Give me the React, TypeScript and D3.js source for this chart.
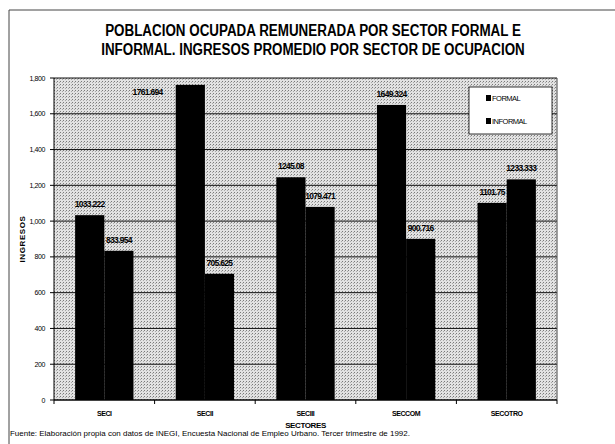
import React, { useLayoutEffect, useRef, useState } from "react";
import * as d3 from "d3";

const categories = ["SECI", "SECII", "SECIII", "SECCOM", "SECOTRO"];
const seriesNames = ["FORMAL", "INFORMAL"];
const formalValues = [1033.222, 1761.694, 1245.08, 1649.324, 1101.75];
const informalValues = [833.954, 705.625, 1079.471, 900.716, 1233.333];
const formalLabels = ["1033.222", "1761.694", "1245.08", "1649.324", "1101.75"];
const informalLabels = ["833.954", "705.625", "1079.471", "900.716", "1233.333"];
const yTicks = [0, 200, 400, 600, 800, 1000, 1200, 1400, 1600, 1800];
const titleLines = [
  "POBLACION OCUPADA REMUNERADA POR SECTOR FORMAL E",
  "INFORMAL. INGRESOS PROMEDIO POR SECTOR DE OCUPACION",
];
const yTitle = "INGRESOS";
const xTitle = "SECTORES";
const sourceText =
  "Fuente: Elaboración propia con datos de INEGI, Encuesta Nacional de Empleo Urbano. Tercer trimestre de 1992.";

const W = 615;
const H = 444;
const plot = { left: 54, right: 557, top: 78, bottom: 400 };
const FONT = "'Liberation Sans', Arial, sans-serif";

function FitText({ x, y, width, size, bold, anchor, children }: any) {
  const ref = useRef<SVGTextElement>(null);
  const [s, setS] = useState(1);
  useLayoutEffect(() => {
    if (ref.current) {
      const w = ref.current.getComputedTextLength();
      if (w > 0) setS(width / w);
    }
  }, [width, children]);
  return (
    <text
      ref={ref}
      transform={`translate(${x},${y}) scale(${s},1)`}
      textAnchor={anchor || "start"}
      fontFamily={FONT}
      fontWeight={bold ? "bold" : "normal"}
      fontSize={size}
    >
      {children}
    </text>
  );
}

export default function App() {
  const x0 = d3
    .scaleBand<string>()
    .domain(categories)
    .range([plot.left, plot.right])
    .paddingInner(0.42)
    .paddingOuter(0.21);
  const x1 = d3.scaleBand<number>().domain([0, 1]).range([0, x0.bandwidth()]);
  const y = d3.scaleLinear().domain([0, 1800]).range([plot.bottom, plot.top]);
  const fmt = d3.format(",");
  const step = (plot.right - plot.left) / categories.length;

  const series = [formalValues, informalValues];
  const labels = [formalLabels, informalLabels];

  return (
    <svg width={W} height={H} style={{ display: "block", position: "absolute", left: 0, top: 0 }}>
      <defs>
        <pattern id="dots" width="3" height="3" patternUnits="userSpaceOnUse">
          <rect width="3" height="3" fill="#e2e2e2" />
          <rect x="0" y="0" width="1" height="1" fill="#7a7a7a" />
          <rect x="2" y="1" width="1" height="1" fill="#a8a8a8" />
        </pattern>
      </defs>
      <rect width={W} height={H} fill="#fff" />
      {/* frame */}
      <line x1={9} x2={W} y1={10} y2={10} stroke="#444" strokeWidth={1} />
      <line x1={9} x2={9} y1={10} y2={H} stroke="#444" strokeWidth={1} />

      {/* title */}
      {titleLines.map((t, i) => (
        <FitText key={i} x={313} y={36 + i * 19} width={i === 0 ? 416 : 424} size={17} bold anchor="middle">
          {t}
        </FitText>
      ))}

      {/* plot background */}
      <rect
        x={plot.left}
        y={plot.top}
        width={plot.right - plot.left}
        height={plot.bottom - plot.top}
        fill="url(#dots)"
      />
      {/* gridlines */}
      {yTicks.map((t) => (
        <line
          key={t}
          x1={plot.left}
          x2={plot.right}
          y1={y(t)}
          y2={y(t)}
          stroke="#111"
          strokeWidth={1}
        />
      ))}
      <line x1={plot.right} x2={plot.right} y1={plot.top} y2={plot.bottom} stroke="#444" />

      {/* bars */}
      {categories.map((c, ci) =>
        series.map((vals, si) => (
          <rect
            key={c + si}
            x={(x0(c) as number) + (x1(si) as number)}
            y={y(vals[ci])}
            width={x1.bandwidth()}
            height={plot.bottom - y(vals[ci])}
            fill="#000"
          />
        ))
      )}

      {/* data labels */}
      {categories.map((c, ci) =>
        series.map((vals, si) => {
          const cx = (x0(c) as number) + (x1(si) as number) + x1.bandwidth() / 2;
          let ly = y(vals[ci]) - 8;
          let lx = cx;
          if (ly < plot.top + 4) {
            lx = cx - x1.bandwidth() * 1.5 + 1;
            ly = y(vals[ci]) + 10;
          }
          return (
            <text
              key={"l" + c + si}
              x={lx}
              y={ly}
              textAnchor="middle"
              fontFamily={FONT}
              fontWeight="bold"
              fontSize={8.5}
              letterSpacing={-0.7}
              fill="#000"
            >
              {labels[si][ci]}
            </text>
          );
        })
      )}

      {/* axes */}
      <line x1={plot.left} x2={plot.left} y1={plot.top} y2={plot.bottom} stroke="#000" />
      <line x1={plot.left} x2={plot.right} y1={plot.bottom} y2={plot.bottom} stroke="#000" />
      {yTicks.map((t) => (
        <g key={"t" + t}>
          <line x1={plot.left - 4} x2={plot.left} y1={y(t)} y2={y(t)} stroke="#000" />
          <text
            x={plot.left - 9}
            y={y(t) + 2.5}
            textAnchor="end"
            fontFamily={FONT}
            fontSize={7}
            letterSpacing={-0.4}
          >
            {fmt(t)}
          </text>
        </g>
      ))}
      {d3.range(categories.length + 1).map((i) => (
        <line
          key={"xt" + i}
          x1={plot.left + i * step}
          x2={plot.left + i * step}
          y1={plot.bottom}
          y2={plot.bottom + 4}
          stroke="#000"
        />
      ))}
      {categories.map((c) => (
        <text
          key={"xl" + c}
          x={(x0(c) as number) + x0.bandwidth() / 2}
          y={416}
          textAnchor="middle"
          fontFamily={FONT}
          fontWeight="bold"
          fontSize={7}
          letterSpacing={-0.4}
        >
          {c}
        </text>
      ))}
      <text
        x={(plot.left + plot.right) / 2}
        y={428}
        textAnchor="middle"
        fontFamily={FONT}
        fontWeight="bold"
        fontSize={8}
        letterSpacing={-0.4}
      >
        {xTitle}
      </text>
      <text
        transform={`translate(25, ${(plot.top + plot.bottom) / 2}) rotate(-90)`}
        textAnchor="middle"
        fontFamily={FONT}
        fontWeight="bold"
        fontSize={8}
        letterSpacing={0.6}
      >
        {yTitle}
      </text>

      {/* legend */}
      <rect x={469} y={87} width={83} height={47} fill="#fff" stroke="#000" strokeWidth={0.8} />
      {seriesNames.map((s, i) => (
        <g key={s}>
          <rect x={486} y={95 + i * 23} width={5} height={6} fill="#000" />
          <text
            x={492}
            y={101 + i * 23}
            fontFamily={FONT}
            fontSize={7.5}
            letterSpacing={-0.5}
          >
            {s}
          </text>
        </g>
      ))}

      {/* source */}
      <FitText x={10} y={436} width={400} size={7}>
        {sourceText}
      </FitText>
    </svg>
  );
}
